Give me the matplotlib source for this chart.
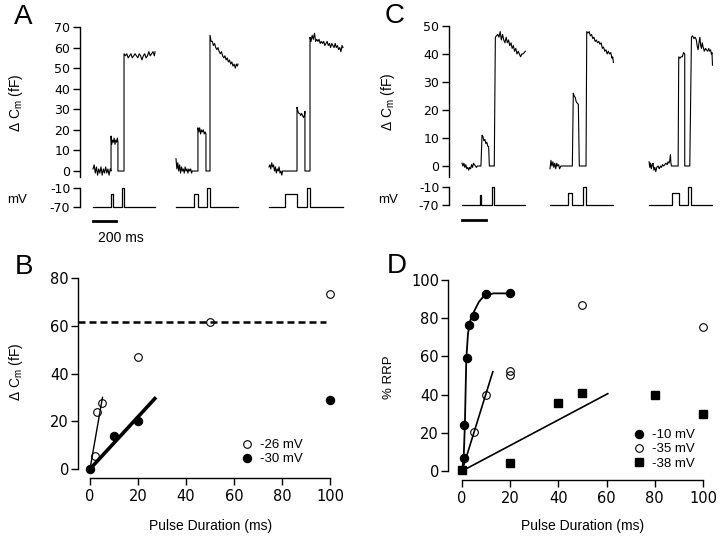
import numpy as np
import matplotlib
matplotlib.use('Agg')
import matplotlib.pyplot as plt
from matplotlib.transforms import blended_transform_factory

plt.rcParams['font.family'] = ['Liberation Sans', 'DejaVu Sans']
plt.rcParams['mathtext.fontset'] = 'custom'
plt.rcParams['mathtext.rm'] = 'Liberation Sans'
plt.rcParams['axes.unicode_minus'] = False

# ---- panel A: capacitance traces (ms, fF) ----
a_trace1 = [(0, 1), (10, 3), (20, -1), (30, 2), (40, -2), (50, 1), (60, -1), (70, 2), (80, -2),
            (90, 1), (100, -1), (110, 2), (120, -1), (130, 1), (140, -2), (150, 1), (157, 0),
            (157, 17), (163, 13), (170, 15), (177, 14), (184, 16), (191, 13), (198, 15), (205, 14),
            (212, 16), (217, 14), (217, 0), (270, 0),
            (270, 57), (282, 56), (294, 57), (306, 55), (318, 56), (330, 57), (342, 55), (354, 56),
            (366, 57), (378, 56), (390, 55), (402, 57), (414, 56), (426, 54), (438, 56), (450, 57),
            (462, 55), (474, 56), (486, 58), (498, 56), (510, 57), (522, 58), (534, 56), (540, 58)]
a_trace2 = [(0, 6), (8, 1), (16, 4), (24, 0), (32, 3), (40, -1), (48, 2), (56, 0), (64, 1), (72, -1),
            (80, 2), (88, 0), (96, 1), (104, -1), (112, 1), (120, 0), (128, 1), (136, -1), (142, 0),
            (148, 0), (191, 0),
            (191, 21), (198, 19), (206, 21), (214, 18), (222, 20), (230, 19), (238, 20), (246, 18),
            (254, 19), (261, 18), (261, 0), (296, 0),
            (296, 66), (306, 63), (316, 63), (326, 61), (336, 62), (346, 60), (356, 59), (366, 60),
            (376, 58), (386, 57), (396, 58), (406, 56), (416, 55), (426, 56), (436, 54), (446, 55),
            (456, 53), (466, 54), (476, 52), (486, 53), (496, 51), (506, 52), (516, 50), (526, 52),
            (534, 51), (540, 52)]
a_trace3 = [(0, 2), (8, 3), (16, 1), (24, 4), (32, 2), (40, 3), (48, 0), (56, 2), (64, -1), (72, 1),
            (80, 0), (88, 2), (96, -1), (104, 0), (112, -2), (118, 0), (122, 0), (244, 0),
            (244, 31), (252, 29), (260, 28), (268, 28), (276, 27), (284, 28), (292, 27), (300, 26),
            (308, 27), (313, 29), (313, 0), (357, 0),
            (357, 65), (366, 63), (376, 66), (386, 64), (396, 67), (406, 63), (416, 64), (426, 63),
            (436, 64), (446, 62), (456, 63), (466, 62), (476, 63), (486, 61), (496, 62), (506, 63),
            (516, 61), (526, 62), (536, 60), (546, 62), (556, 61), (566, 60), (576, 62), (586, 60),
            (596, 61), (606, 59), (616, 60), (626, 58), (636, 61), (644, 60)]
# voltage protocol: (start ms, end ms, level mV), holding -70 mV
a_pulses = [[(157, 170, -30), (252, 274, -10)],
            [(159, 189, -28), (272, 296, -10)],
            [(139, 241, -28), (328, 357, -10)]]
a_ends = [540, 540, 644]

# ---- panel C ----
c_trace1 = [(0, 1), (8, 0), (16, 1), (24, -0.5), (32, 0.5), (40, -1), (48, -0.5), (56, -1.5),
            (64, -0.5), (72, -1), (80, 0.5), (88, -0.5), (96, 1), (104, 0.5), (112, 0), (120, -0.5),
            (128, 0), (136, 0), (150, 0), (158, 0),
            (167, 11), (175, 10.5), (183, 9), (191, 9.5), (199, 8), (207, 8.5), (215, 7), (222, 7),
            (228, 0), (269, 0),
            (278, 46), (288, 46.5), (298, 47), (308, 46), (318, 48), (328, 45), (338, 47), (348, 45),
            (358, 44), (368, 46), (378, 44), (388, 45), (398, 43), (408, 44), (418, 42), (428, 43),
            (438, 41), (448, 42), (458, 40), (468, 41), (478, 40), (488, 39), (498, 40), (508, 40),
            (518, 40.5), (528, 41)]
c_trace2 = [(0, -1), (8, 2), (16, 0), (24, 1.5), (32, -0.5), (40, 1), (48, -1), (56, 1), (64, 0),
            (72, 0.5), (80, -1), (90, 0), (100, 0), (186, 0),
            (194, 26), (202, 25), (210, 24.5), (218, 23), (226, 22.5), (236, 22), (244, 0), (300, 0),
            (306, 48), (316, 47.5), (326, 48), (336, 46.5), (346, 47), (356, 45.5), (366, 46),
            (376, 44.5), (386, 45), (396, 44), (406, 44.5), (416, 43.5), (426, 44), (436, 42),
            (446, 42.5), (456, 41), (466, 41.5), (476, 40), (486, 41), (496, 40), (506, 40.5),
            (516, 38.5), (522, 39), (528, 37)]
c_trace3 = [(0, 1.5), (6, -0.5), (12, 1), (19, -1), (26, 0.5), (33, 1), (40, -1.5), (48, -0.5),
            (56, -2), (64, -0.5), (75, 0), (85, -1), (95, 0), (103, -0.5), (112, 0.5), (122, 0),
            (131, 0.5), (140, 1), (150, 0.5), (158, 1.5), (166, 1), (172, 2), (178, 4), (182, 1),
            (186, 0), (242, 0),
            (247, 39), (257, 38.5), (267, 39), (277, 39), (287, 40.5), (297, 40), (297, 0), (339, 0),
            (353, 46), (363, 46.5), (373, 45.5), (383, 46), (394, 45), (400, 43), (408, 41.5),
            (416, 44), (423, 46), (430, 43), (436, 42), (443, 44), (450, 42.5), (460, 41), (470, 42),
            (478, 41.5), (488, 41), (497, 42), (505, 41), (512, 41.5), (519, 40), (524, 40.5),
            (528, 36)]
c_pulses = [[(147, 158, -35), (247, 269, -10)],
            [(153, 181, -30), (272, 300, -10)],
            [(194, 250, -30), (325, 347, -10)]]
c_ends = [528, 528, 528]

# ---- panel B ----
b_open_x = [2, 3, 5, 20, 50, 100]
b_open_y = [5.5, 24, 27.5, 47, 61.5, 73.5]
b_fill_x = [0, 10, 20, 100]
b_fill_y = [0, 14, 20, 29]
b_fit_open = ([0, 5.2], [0, 30])
b_fit_fill = ([0, 27], [0, 29.5])
b_rrp = 61.5
b_labels = ['-26 mV', '-30 mV']

# ---- panel D ----
d_fill_x = [1, 1, 2, 3, 5, 10, 20]
d_fill_y = [7, 24, 59, 76.5, 81, 92.5, 93]
d_open_x = [5, 10, 20, 20, 50, 100]
d_open_y = [20.5, 40, 52.5, 50.5, 87, 75.5]
d_sq_x = [0, 20, 40, 50, 80, 100]
d_sq_y = [0.5, 4, 35.5, 41, 40, 30]
d_fit_fill = ([0, 0.7, 1.2, 1.8, 2.5, 3.5, 5, 7, 9, 13, 20],
              [0, 7, 24, 59, 72, 79, 83.5, 88.5, 91.5, 93, 93])
d_fit_open = ([0, 12.8], [0, 52])
d_fit_sq = ([0, 60.5], [0, 40.5])
d_labels = ['-10 mV', '-35 mV', '-38 mV']

W, H = 720, 538
TICKFONT = 'DejaVu Sans'
fig = plt.figure(figsize=(7.2, 5.38), dpi=100)


def box(x0, y0, x1, y1):
    return [x0 / W, 1 - y1 / H, (x1 - x0) / W, (y1 - y0) / H]


def left_only(ax, size):
    for s in ['top', 'right', 'bottom']:
        ax.spines[s].set_visible(False)
    ax.spines['left'].set_linewidth(1.0)
    ax.set_xticks([])
    ax.tick_params(axis='y', length=5, width=1.0, labelsize=size, pad=2,
                   labelfontfamily=TICKFONT)
    ax.patch.set_alpha(0)


def steps(pulses, end):
    t, v = [0], [-70]
    for s, e, lev in pulses:
        t += [s, s, e, e]
        v += [-70, lev, lev, -70]
    t.append(end)
    v.append(-70)
    return t, v


def trace_panel(cap_box, mv_box, xlim, ylim, yticks, traces, offsets, pulses, ends, bar_y):
    axc = fig.add_axes(cap_box)
    for tr, off in zip(traces, offsets):
        t, c = np.array(tr, dtype=float).T
        axc.plot(t + off, c, color='k', lw=0.8, clip_on=False)
    axc.set_xlim(xlim)
    axc.set_ylim(ylim)
    axc.set_yticks(yticks)
    left_only(axc, 9)

    axm = fig.add_axes(mv_box)
    for p, end, off in zip(pulses, ends, offsets):
        t, v = steps(p, end)
        axm.plot(np.array(t) + off, v, color='k', lw=0.9, clip_on=False)
    axm.set_xlim(xlim)
    axm.set_ylim(-70, -10)
    axm.set_yticks([-70, -10])
    left_only(axm, 9)
    tr = blended_transform_factory(axm.transData, fig.transFigure)
    axm.plot([offsets[0], offsets[0] + 200], [1 - bar_y / H] * 2, color='k', lw=2,
             transform=tr, clip_on=False)
    return axc, axm


# panel A
trace_panel(box(80, 27, 350, 177.2), box(80, 188, 350, 207), (-113, 2236), (-3, 70),
            range(0, 71, 10), [a_trace1, a_trace2, a_trace3], [0, 722, 1531],
            a_pulses, a_ends, 221)
# panel C
trace_panel(box(449, 26, 718, 177.2), box(449, 187, 718, 205), (-108, 2132), (-4, 50),
            range(0, 51, 10), [c_trace1, c_trace2, c_trace3], [0, 733, 1558],
            c_pulses, c_ends, 220)


def scatter_panel(ax, xlim, ylim, ytop):
    ax.set_xlim(xlim)
    ax.set_ylim(ylim)
    ax.spines['top'].set_visible(False)
    ax.spines['right'].set_visible(False)
    ax.spines['left'].set_bounds(0, ytop)
    ax.spines['bottom'].set_bounds(0, 100)
    for s in ['left', 'bottom']:
        ax.spines[s].set_linewidth(1.0)
    ax.set_xticks(range(0, 101, 20))
    ax.set_yticks(range(0, ytop + 1, 20))
    ax.tick_params(length=5, width=1.0, labelsize=10.5, labelfontfamily=TICKFONT)
    ax.tick_params(axis='y', pad=1.5)
    ax.tick_params(axis='x', pad=3)
    ax.patch.set_alpha(0)


# panel B
axb = fig.add_axes(box(78, 278, 334.8, 478.1))
scatter_panel(axb, (-5, 102), (-3.8, 80), 80)
axb.plot([-4.9, 98.3], [b_rrp, b_rrp], color='k', lw=1.8, dashes=(2.8, 1.6))
axb.plot(*b_fit_open, color='k', lw=1.0)
axb.plot(*b_fit_fill, color='k', lw=2.6)
ho, = axb.plot(b_open_x, b_open_y, 'o', ms=5.5, mfc='none', mec='k', mew=0.8, clip_on=False)
hf, = axb.plot(b_fill_x, b_fill_y, 'o', ms=5.8, color='k', clip_on=False)
axb.legend([ho, hf], b_labels, loc='upper left', bbox_to_anchor=(240 / W, 1 - 439 / H),
           bbox_transform=fig.transFigure, frameon=False, handlelength=1.0, handletextpad=0.5,
           labelspacing=0.15, borderpad=0, borderaxespad=0, fontsize=9.5)

# panel D
axd = fig.add_axes(box(448, 280, 707.8, 480))
scatter_panel(axd, (-5.8, 102), (-4.7, 100), 100)
axd.plot(*d_fit_fill, color='k', lw=1.3)
axd.plot(*d_fit_open, color='k', lw=1.2)
axd.plot(*d_fit_sq, color='k', lw=1.2)
h1, = axd.plot(d_fill_x, d_fill_y, 'o', ms=5.8, color='k', clip_on=False)
h2, = axd.plot(d_open_x, d_open_y, 'o', ms=5.5, mfc='none', mec='k', mew=0.8, clip_on=False)
h3, = axd.plot(d_sq_x, d_sq_y, 's', ms=6, color='k', clip_on=False)
axd.legend([h1, h2, h3], d_labels, loc='upper left', bbox_to_anchor=(632 / W, 1 - 429 / H),
           bbox_transform=fig.transFigure, frameon=False, handlelength=1.0, handletextpad=0.5,
           labelspacing=0.15, borderpad=0, borderaxespad=0, fontsize=9.5)

# text labels
cm_label = r'$\Delta$ C$_{\mathrm{m}}$ (fF)'
fig.text(16 / W, 1 - 103 / H, cm_label, rotation=90, ha='center', va='center', fontsize=10)
fig.text(388 / W, 1 - 102 / H, cm_label, rotation=90, ha='center', va='center', fontsize=10)
fig.text(16 / W, 1 - 372 / H, cm_label, rotation=90, ha='center', va='center', fontsize=10)
fig.text(389 / W, 1 - 377 / H, '% RRP', rotation=90, ha='center', va='center', fontsize=9.5)
fig.text(17 / W, 1 - 200 / H, 'mV', ha='center', va='center', fontsize=9.5)
fig.text(388 / W, 1 - 200 / H, 'mV', ha='center', va='center', fontsize=9.5)
fig.text(121 / W, 1 - 238 / H, '200 ms', ha='center', va='center', fontsize=10)
fig.text(211 / W, 1 - 526 / H, 'Pulse Duration (ms)', ha='center', va='center', fontsize=10)
fig.text(583 / W, 1 - 526 / H, 'Pulse Duration (ms)', ha='center', va='center', fontsize=10)
for lab, x, y in [('A', 23, 17), ('C', 395, 16), ('B', 24, 267), ('D', 397, 266)]:
    fig.text(x / W, 1 - y / H, lab, ha='center', va='center', fontsize=20)

fig.savefig('out.png', dpi=100)
